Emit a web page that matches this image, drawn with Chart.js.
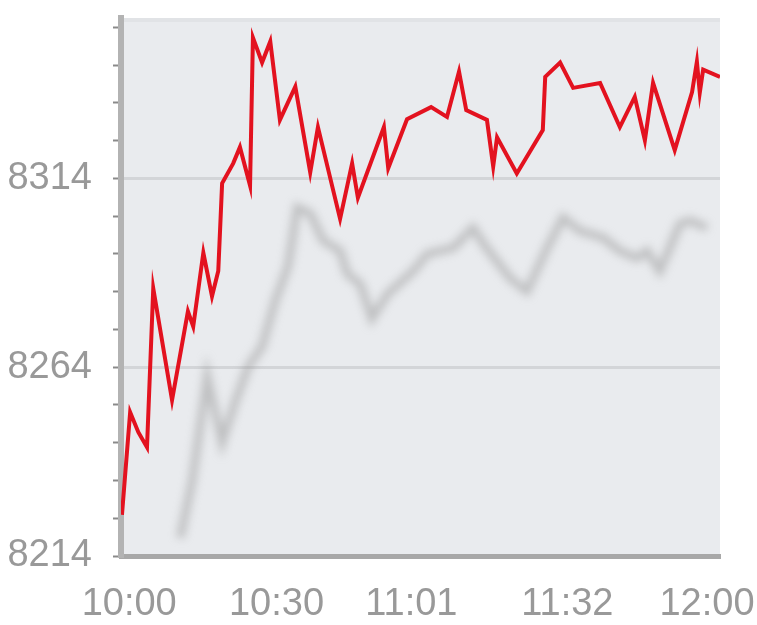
<!DOCTYPE html>
<html>
<head>
<meta charset="utf-8">
<script src="https://cdn.jsdelivr.net/npm/chart.js@4"></script>
<style>
  body { margin: 0; background: #fff; }
  #wrap { width: 757px; height: 625px; }
</style>
</head>
<body>
<div id="wrap"><canvas id="chart"></canvas></div>
<script>
// minutes after 10:00 and index values
const todayMinutes = [-1.5, 0.2, 1.9, 3.7, 5.0, 8.9, 12.2, 13.3, 15.4, 17.2, 18.5, 19.3, 21.6, 23.0, 25.1, 25.7, 27.6, 29.3, 31.3, 34.5, 37.6, 39.2, 43.8, 46.3, 47.5, 52.9, 53.8, 57.7, 62.7, 66.0, 68.5, 70.0, 74.3, 75.6, 76.4, 80.5, 85.9, 86.4, 89.5, 92.2, 97.8, 101.9, 105.0, 107.1, 108.8, 113.3, 116.9, 117.9, 118.5, 119.2, 122.7];
const todayValues = [8224.9, 8252.1, 8246.8, 8242.8, 8284.9, 8255.3, 8278.8, 8274.8, 8294.3, 8282.8, 8289.5, 8312.7, 8318.0, 8322.3, 8312.1, 8351.3, 8344.7, 8350.3, 8329.5, 8338.3, 8315.6, 8327.6, 8303.3, 8318.0, 8308.9, 8327.6, 8316.7, 8329.7, 8332.9, 8330.3, 8342.3, 8332.1, 8329.5, 8317.2, 8324.9, 8315.3, 8326.8, 8340.9, 8344.7, 8338.0, 8339.3, 8327.6, 8335.6, 8324.1, 8339.3, 8321.5, 8336.9, 8344.9, 8336.7, 8342.8, 8340.9];

const prevMinutes = [10.6, 13.1, 16.2, 19.3, 22.0, 24.7, 27.6, 30.3, 33.0, 34.9, 37.6, 40.3, 43.8, 45.3, 48.0, 50.4, 53.6, 59.0, 61.9, 67.3, 71.4, 73.9, 79.1, 82.6, 86.8, 90.1, 93.6, 98.4, 101.9, 105.5, 107.5, 110.2, 114.4, 116.5, 120.0];
const prevValues = [8218.8, 8234.0, 8261.5, 8244.1, 8254.8, 8264.1, 8269.5, 8281.5, 8290.8, 8306.3, 8304.7, 8297.5, 8294.8, 8288.7, 8286.0, 8276.9, 8283.3, 8289.5, 8294.0, 8295.6, 8300.9, 8296.1, 8287.6, 8284.1, 8295.6, 8303.6, 8300.1, 8298.3, 8294.8, 8292.9, 8294.8, 8289.5, 8302.0, 8302.8, 8300.9];

const xTickMinutes = [0, 30.6, 58.6, 91, 120];
const xTickLabels = ['10:00', '10:30', '11:01', '11:32', '12:00'];
const yLabelValues = [8214, 8264, 8314];
const yGridValues = [8264, 8314];

const toPoints = (xs, ys) => xs.map((x, i) => ({ x: x, y: ys[i] }));

const plotBackground = {
    id: 'plotBackground',
    beforeDraw(chart) {
        const { ctx, chartArea: a } = chart;
        ctx.save();
        ctx.fillStyle = '#e9ebee';
        ctx.fillRect(a.left, a.top, a.right - a.left, a.bottom - a.top);
        ctx.fillStyle = '#e1e3e6';
        ctx.fillRect(a.left, a.top, a.right - a.left, 4);
        ctx.restore();
    }
};

// the earlier session is drawn soft, as in the picture
const blurPrevious = {
    id: 'blurPrevious',
    beforeDatasetDraw(chart, args) {
        if (args.index === 1) {
            chart.ctx.save();
            chart.ctx.filter = 'blur(4px)';
        }
    },
    afterDatasetDraw(chart, args) {
        if (args.index === 1) chart.ctx.restore();
    }
};

const labelFont = { family: "'Liberation Sans', Arial, sans-serif", size: 38 };

new Chart(document.getElementById('chart'), {
    type: 'line',
    data: {
        datasets: [
            {
                data: toPoints(todayMinutes, todayValues),
                borderColor: '#e3121f',
                borderWidth: 4,
                pointRadius: 0,
                tension: 0,
                order: 0
            },
            {
                data: toPoints(prevMinutes, prevValues),
                borderColor: 'rgba(150,150,150,0.5)',
                borderWidth: 8,
                pointRadius: 0,
                tension: 0,
                order: 1
            }
        ]
    },
    options: {
        responsive: true,
        maintainAspectRatio: false,
        animation: false,
        layout: { padding: { left: 8, right: 37, top: 18, bottom: 0 } },
        plugins: { legend: { display: false }, tooltip: { enabled: false } },
        scales: {
            x: {
                type: 'linear',
                min: -1.7,
                max: 122.7,
                afterBuildTicks: (scale) => {
                    scale.ticks = xTickMinutes.map(v => ({ value: v }));
                },
                afterFit: (scale) => {
                    scale.height = 69;
                    scale.paddingLeft = 0;
                    scale.paddingRight = 0;
                },
                ticks: {
                    autoSkip: false,
                    maxRotation: 0,
                    padding: 26,
                    color: '#999999',
                    font: labelFont,
                    callback: (v) => xTickLabels[xTickMinutes.indexOf(v)]
                },
                grid: { display: false, drawTicks: false },
                border: { display: true, color: '#a8a8a8', width: 5 }
            },
            y: {
                min: 8214,
                max: 8356.5,
                afterBuildTicks: (scale) => {
                    const t = [];
                    for (let v = 8214; v <= 8354; v += 10) t.push({ value: v });
                    scale.ticks = t;
                },
                afterFit: (scale) => {
                    scale.width = 113;
                    scale.paddingTop = 0;
                    scale.paddingBottom = 0;
                },
                ticks: {
                    autoSkip: false,
                    padding: 21,
                    color: '#999999',
                    font: labelFont,
                    callback: (v) => yLabelValues.includes(v) ? String(v) : ''
                },
                grid: {
                    color: (c) => c.tick && yGridValues.includes(c.tick.value) ? '#d3d5d8' : 'rgba(0,0,0,0)',
                    lineWidth: 3,
                    tickColor: '#8a8a8a',
                    tickWidth: 2,
                    tickLength: 8
                },
                border: { display: true, color: '#b3b3b3', width: 6 }
            }
        }
    },
    plugins: [plotBackground, blurPrevious]
});
</script>
</body>
</html>
